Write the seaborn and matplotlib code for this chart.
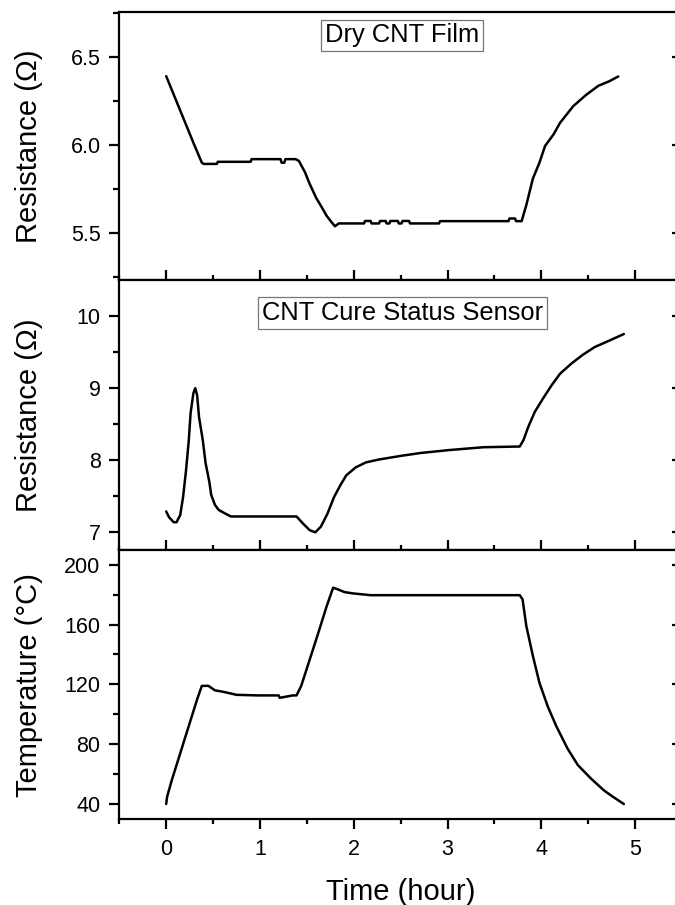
import numpy as np
import pandas as pd
import matplotlib.pyplot as plt
import seaborn as sns
from matplotlib.ticker import MultipleLocator

# Dry CNT film resistance (ohm) vs time (hour)
film_time = [0.00, 0.10, 0.20, 0.30, 0.38, 0.40, 0.54, 0.55, 0.90, 0.91, 1.22, 1.23, 1.26, 1.27,
             1.38, 1.415, 1.48, 1.53, 1.60, 1.645, 1.71, 1.76, 1.80, 1.84, 2.11, 2.12, 2.18, 2.19,
             2.27, 2.28, 2.34, 2.35, 2.38, 2.39, 2.47, 2.48, 2.51, 2.52, 2.59, 2.60, 2.91, 2.92,
             3.65, 3.66, 3.72, 3.73, 3.79, 3.84, 3.91, 3.98, 4.04, 4.13, 4.20, 4.34, 4.48, 4.61,
             4.72, 4.82]
film_res = [6.39, 6.26, 6.13, 6.00, 5.90, 5.893, 5.893, 5.905, 5.905, 5.92, 5.92, 5.90, 5.90, 5.92,
            5.92, 5.91, 5.846, 5.78, 5.70, 5.66, 5.60, 5.565, 5.54, 5.556, 5.556, 5.57, 5.57, 5.556,
            5.556, 5.57, 5.57, 5.556, 5.556, 5.57, 5.57, 5.556, 5.556, 5.57, 5.57, 5.556, 5.556, 5.569,
            5.569, 5.584, 5.584, 5.569, 5.569, 5.66, 5.81, 5.90, 5.995, 6.06, 6.126, 6.22, 6.285, 6.336,
            6.36, 6.388]

# CNT cure status sensor resistance (ohm)
sensor_time = [0.00, 0.03, 0.08, 0.11, 0.15, 0.18, 0.21, 0.24, 0.26, 0.29, 0.31, 0.33, 0.35, 0.39,
               0.42, 0.46, 0.48, 0.52, 0.56, 0.63, 0.69, 1.39, 1.46, 1.53, 1.59, 1.65, 1.72, 1.79,
               1.86, 1.92, 2.02, 2.13, 2.27, 2.50, 2.71, 3.01, 3.38, 3.77, 3.81, 3.86, 3.93, 4.02,
               4.11, 4.20, 4.32, 4.44, 4.57, 4.71, 4.88]
sensor_res = [7.29, 7.21, 7.14, 7.14, 7.24, 7.49, 7.84, 8.26, 8.65, 8.93, 9.00, 8.90, 8.60, 8.28,
              7.96, 7.70, 7.52, 7.38, 7.31, 7.26, 7.22, 7.22, 7.12, 7.03, 7.00, 7.08, 7.26, 7.49,
              7.66, 7.79, 7.90, 7.97, 8.01, 8.06, 8.10, 8.14, 8.18, 8.19, 8.28, 8.46, 8.67, 8.86,
              9.04, 9.20, 9.34, 9.46, 9.57, 9.65, 9.75]

# Temperature (degC)
temp_time = [0.00, 0.01, 0.06, 0.15, 0.24, 0.33, 0.38, 0.45, 0.52, 0.61, 0.75, 0.98, 1.20, 1.21,
             1.35, 1.39, 1.44, 1.53, 1.62, 1.71, 1.78, 1.83, 1.90, 1.99, 2.18, 3.77, 3.80, 3.84,
             3.91, 3.98, 4.07, 4.16, 4.28, 4.39, 4.53, 4.67, 4.76, 4.88]
temp_val = [40, 45, 56, 74, 92, 110, 119, 119, 116, 115, 113, 112.6, 112.6, 111,
            112.6, 112.6, 119, 136.5, 154, 172, 184.6, 183.5, 181.7, 180.8, 179.6, 179.6, 176.8, 159,
            139, 121, 105, 92, 77, 66, 57, 49, 45, 40]

panels = [
    ("Resistance (\u03a9)", film_time, film_res, (5.234, 6.755), 0.5, 0.25, "Dry CNT Film", 0.912),
    ("Resistance (\u03a9)", sensor_time, sensor_res, (6.755, 10.495), 1, 0.5, "CNT Cure Status Sensor", 0.878),
    ("Temperature (\u00b0C)", temp_time, temp_val, (29.8, 209.8), 40, 20, None, None),
]

sns.set_theme(style="ticks")
plt.rcParams["font.family"] = ["Liberation Sans", "DejaVu Sans"]
plt.rcParams["text.color"] = "black"
plt.rcParams["axes.labelcolor"] = "black"

fig = plt.figure(figsize=(6.75, 9.05), dpi=100)
W, H = 675.0, 905.0
left, right = 119.3, 682.0
tops = [11.7, 280.3, 550.0]
bots = [280.3, 550.0, 819.3]

for i, (ylabel, t, v, ylim, major, minor, note, note_y) in enumerate(panels):
    ax = fig.add_axes([left / W, 1 - bots[i] / H, (right - left) / W, (bots[i] - tops[i]) / H])
    df = pd.DataFrame({"time": t, "value": v})
    sns.lineplot(data=df, x="time", y="value", ax=ax, color="black", linewidth=1.8,
                 sort=False, estimator=None)
    ax.set_xlim(-0.5, 5.5)
    ax.set_ylim(*ylim)
    ax.xaxis.set_major_locator(MultipleLocator(1))
    ax.xaxis.set_minor_locator(MultipleLocator(0.5))
    ax.yaxis.set_major_locator(MultipleLocator(major))
    ax.yaxis.set_minor_locator(MultipleLocator(minor))
    for s in ax.spines.values():
        s.set_linewidth(1.6)
        s.set_color("black")
    ax.tick_params(axis="y", which="major", direction="out", length=7, width=1.6,
                   labelsize=15.5, pad=6.5, colors="black")
    ax.tick_params(axis="y", which="minor", direction="out", length=4.3, width=1.6,
                   colors="black")
    last = i == len(panels) - 1
    ax.tick_params(axis="x", which="major", direction="out" if last else "in", length=7,
                   width=1.6, labelsize=15.5, pad=7.5, labelbottom=last, colors="black")
    ax.tick_params(axis="x", which="minor", direction="out" if last else "in", length=3.6,
                   width=1.6, colors="black")
    ax.set_ylabel(ylabel, fontsize=21)
    ax.yaxis.set_label_coords(-0.136, 0.5)
    if last:
        ax.set_xlabel("Time (hour)", fontsize=21, labelpad=13)
    else:
        ax.set_xlabel("")

    # right-hand ticks point inward
    twin = ax.twinx()
    twin.set_ylim(*ylim)
    twin.yaxis.set_major_locator(MultipleLocator(major))
    twin.yaxis.set_minor_locator(MultipleLocator(minor))
    twin.tick_params(axis="y", which="major", direction="in", length=7, width=1.6,
                     labelright=False, colors="black")
    twin.tick_params(axis="y", which="minor", length=0)
    for s in twin.spines.values():
        s.set_visible(False)

    if note:
        ax.text(0.503, note_y, note, transform=ax.transAxes, ha="center", va="center",
                fontsize=18.4, color="black",
                bbox=dict(boxstyle="square,pad=0.15", facecolor="white", edgecolor="#777777",
                          linewidth=0.9))

fig.savefig("out.png", dpi=100)
